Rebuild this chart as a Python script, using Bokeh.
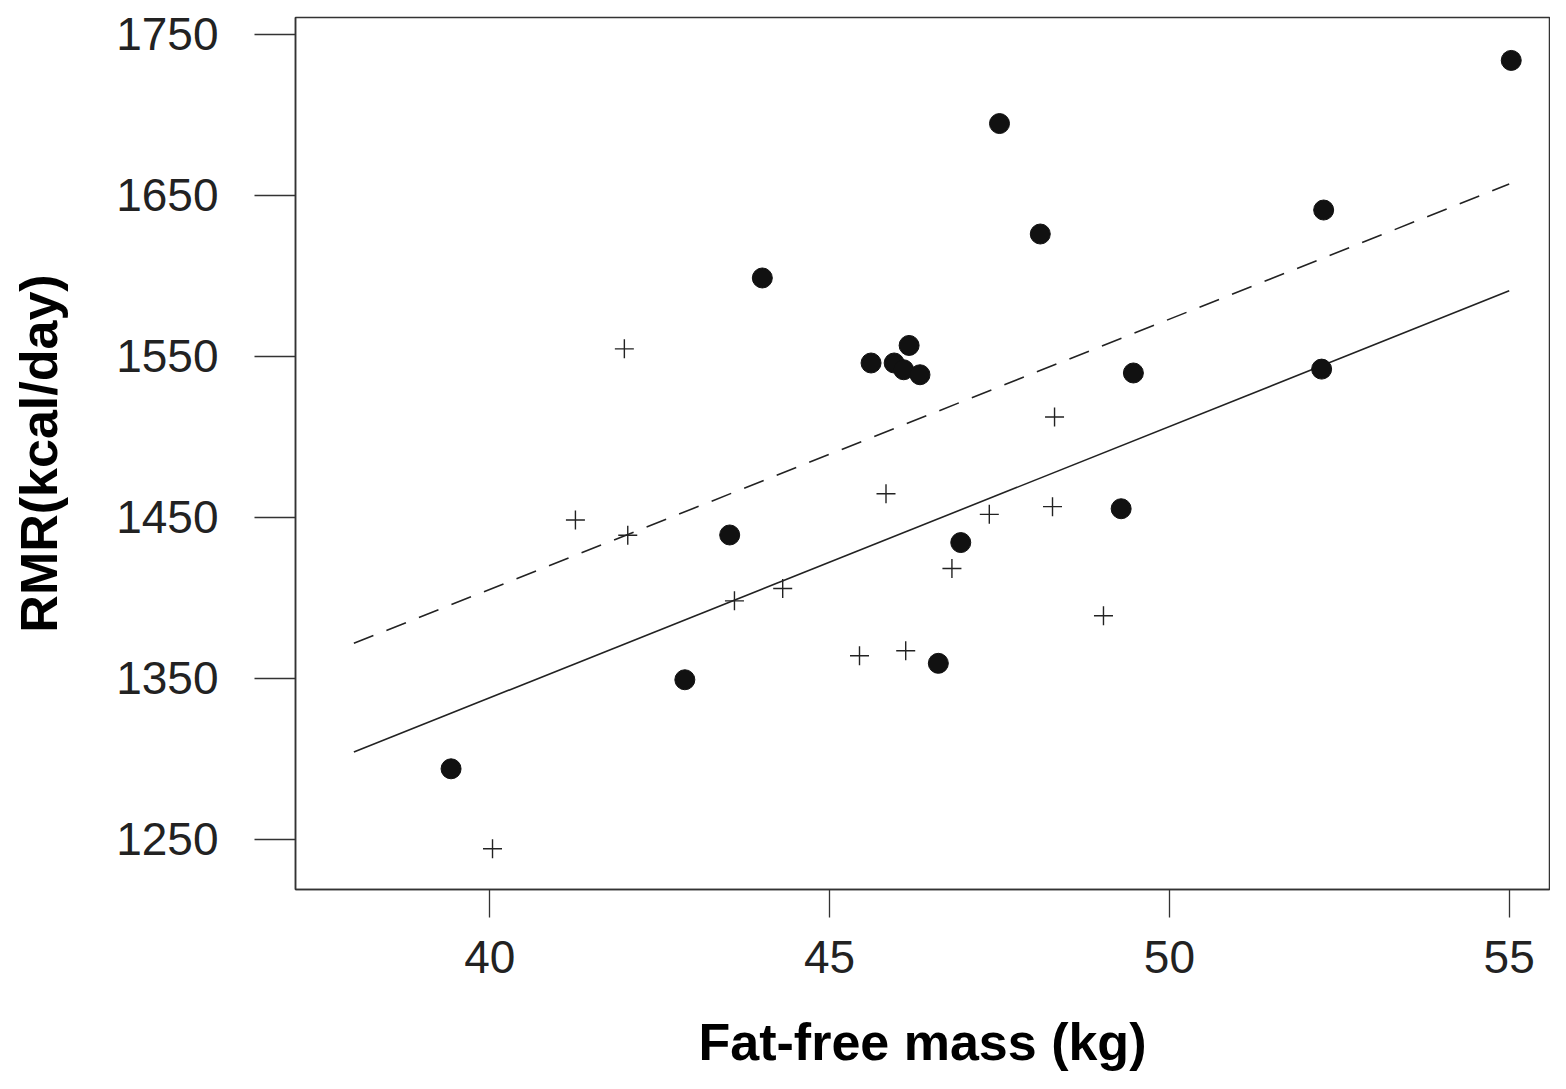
from bokeh.plotting import figure
from bokeh.models import Range1d, FixedTicker
from bokeh.embed import file_html
from bokeh.resources import INLINE

# Filled circles (group 1)
circle_ffm = [39.43, 42.87, 43.53, 44.01, 45.61, 45.95, 46.09, 46.17, 46.33,
              46.60, 46.93, 47.50, 48.10, 49.29, 49.47, 52.24, 52.27, 55.03]
circle_rmr = [1293.8, 1349.1, 1439.0, 1598.6, 1545.8, 1545.8, 1541.6, 1556.7, 1538.5,
              1359.3, 1434.3, 1694.5, 1625.9, 1455.3, 1539.6, 1542.0, 1640.8, 1733.7]

# Crosses (group 2)
cross_ffm = [40.04, 41.26, 41.98, 42.03, 43.60, 44.31, 45.44, 45.83, 46.12,
             46.80, 47.35, 48.28, 48.31, 49.03]
cross_rmr = [1244.2, 1448.3, 1554.6, 1438.8, 1398.1, 1405.8, 1364.0, 1464.6, 1367.1,
             1418.2, 1451.8, 1456.6, 1512.3, 1388.8]

# Regression lines (end points)
line_ffm = [38.0, 55.0]
solid_rmr = [1304.2, 1590.6]
dashed_rmr = [1371.7, 1656.9]

x_ticks = [40, 45, 50, 55]
y_ticks = [1250, 1350, 1450, 1550, 1650, 1750]

p = figure(width=1550, height=1073,
           x_range=Range1d(37.141, 55.593), y_range=Range1d(1218.85, 1760.35),
           output_backend="svg", toolbar_location=None,
           min_border_left=295, min_border_right=1, min_border_top=17, min_border_bottom=182)

p.background_fill_color = "white"
p.border_fill_color = "white"
p.outline_line_color = "#333333"
p.outline_line_width = 1.5
p.xgrid.visible = False
p.ygrid.visible = False

for ax, ticks, tout, std in ((p.xaxis, x_ticks, 28, 23), (p.yaxis, y_ticks, 41, 36)):
    ax.ticker = FixedTicker(ticks=ticks)
    ax.minor_tick_line_color = None
    ax.major_tick_in = 0
    ax.major_tick_out = tout
    ax.major_tick_line_color = "#333333"
    ax.major_tick_line_width = 1.3
    ax.axis_line_color = "#333333"
    ax.axis_line_width = 1.5
    ax.major_label_text_font = "Liberation Sans"
    ax.major_label_text_font_size = "46px"
    ax.major_label_text_color = "#222222"
    ax.major_label_standoff = std
    ax.axis_label_text_font = "Liberation Sans"
    ax.axis_label_text_font_size = "52px"
    ax.axis_label_text_font_style = "bold"
    ax.axis_label_text_color = "black"

p.xaxis.axis_label = "Fat-free mass (kg)"
p.xaxis.axis_label_standoff = 37
p.yaxis.axis_label = "RMR(kcal/day)"
p.yaxis.axis_label_standoff = 45

p.line(line_ffm, solid_rmr, line_color="#222222", line_width=1.6)
p.line(line_ffm, dashed_rmr, line_color="#222222", line_width=1.6, line_dash="21 14")

p.scatter(cross_ffm, cross_rmr, marker="cross", size=19, line_color="#222222", line_width=1.4)
p.scatter(circle_ffm, circle_rmr, marker="circle", size=20, fill_color="#111111", line_color="#111111")

open("out.html", "w").write(file_html(p, INLINE))
